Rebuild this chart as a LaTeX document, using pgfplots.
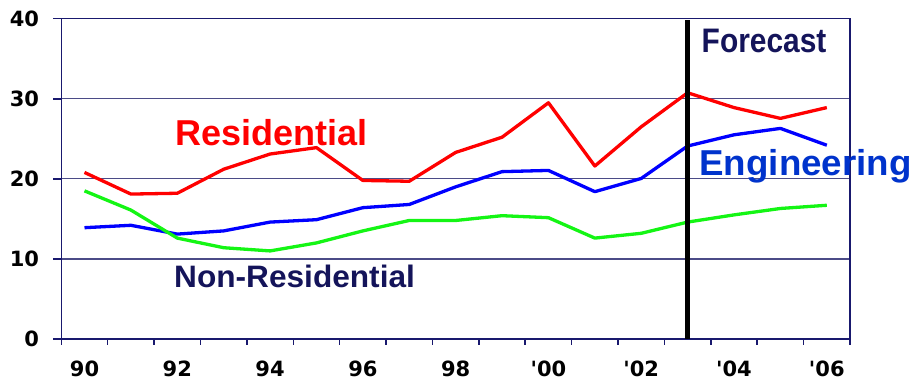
\documentclass[border=0pt]{standalone}
\usepackage{pgfplots}
\pgfplotsset{compat=1.18}
\usepackage{fontspec}
\setmainfont{Liberation Sans}
\newfontfamily\tickfont{DejaVu Sans}
\definecolor{resred}{RGB}{255,0,0}
\definecolor{engblue}{RGB}{0,0,255}
\definecolor{nongreen}{RGB}{20,245,20}
\definecolor{englabel}{RGB}{0,51,204}
\definecolor{navytext}{RGB}{20,20,90}
\definecolor{axisnavy}{RGB}{25,25,110}
\definecolor{gridnavy}{RGB}{75,75,135}
\begin{document}
\begin{tikzpicture}
\begin{axis}[
  name=ax, at={(0,0)}, anchor=south west,
  scale only axis, width=788.7pt, height=320.3pt,
  xmin=-0.5, xmax=16.5, ymin=0, ymax=40,
  clip=false,
  axis line style={axisnavy, line width=1.5pt},
  tick align=outside, tick pos=left,
  xtick={0,2,...,16},
  xticklabels={90,92,94,96,98,'00,'02,'04,'06},
  major x tick style={draw=none},
  minor xtick={-0.5,0.5,...,16.5},
  minor x tick style={axisnavy, line width=1.5pt},
  minor tick length=6pt,
  ytick={0,10,20,30,40},
  major y tick style={axisnavy, line width=1.5pt},
  major tick length=8pt,
  ymajorgrids, major grid style={gridnavy, line width=1.2pt},
  ticklabel style={font=\tickfont\bfseries\fontsize{21}{21}\selectfont, text=black},
  /pgf/number format/assume math mode=true,
  yticklabel style={inner sep=0pt, anchor=east, xshift=-14pt},
  xticklabel style={inner sep=0pt, anchor=center, yshift=-21.5pt},
  every axis plot/.append style={line width=3.3pt, line join=round, mark=none},
]
% residential
\addplot[resred] coordinates {
 (0,20.8) (1,18.1) (2,18.2) (3,21.2) (4,23.1) (5,23.9) (6,19.8) (7,19.7)
 (8,23.3) (9,25.2) (10,29.5) (11,21.6) (12,26.5) (13,30.75) (14,28.9) (15,27.55) (16,28.9)};
% engineering
\addplot[engblue] coordinates {
 (0,13.9) (1,14.2) (2,13.1) (3,13.5) (4,14.6) (5,14.9) (6,16.4) (7,16.8)
 (8,19.0) (9,20.9) (10,21.05) (11,18.4) (12,20.05) (13,24.1) (14,25.5) (15,26.3) (16,24.2)};
% non-residential
\addplot[nongreen] coordinates {
 (0,18.5) (1,16.1) (2,12.6) (3,11.4) (4,11.0) (5,12.0) (6,13.5) (7,14.8)
 (8,14.8) (9,15.4) (10,15.15) (11,12.6) (12,13.2) (13,14.6) (14,15.5) (15,16.3) (16,16.7)};
% forecast divider
\addplot[black, line width=4.5pt, line cap=butt] coordinates {(13,0) (13,39.8)};

\node[anchor=base west, inner sep=0pt, text=resred, font=\bfseries\fontsize{36}{36}\selectfont] at (axis cs:1.95,24.2) {Residential};
\node[anchor=base west, inner sep=0pt, text=navytext, font=\bfseries\fontsize{31}{31}\selectfont, xscale=1.02] at (axis cs:1.93,6.45) {Non-Residential};
\node[anchor=base west, inner sep=0pt, text=englabel, font=\bfseries\fontsize{36}{36}\selectfont, xscale=1.02] at (axis cs:13.25,20.39) {Engineering};
\node[anchor=base west, inner sep=0pt, text=navytext, font=\bfseries\fontsize{34}{34}\selectfont, xscale=0.88] at (axis cs:13.30,35.74) {Forecast};
\end{axis}
\pgfresetboundingbox
\path[use as bounding box] ([xshift=-61.3pt,yshift=-43pt]ax.south west) rectangle ([xshift=64pt,yshift=18.7pt]ax.north east);
\end{tikzpicture}
\end{document}
